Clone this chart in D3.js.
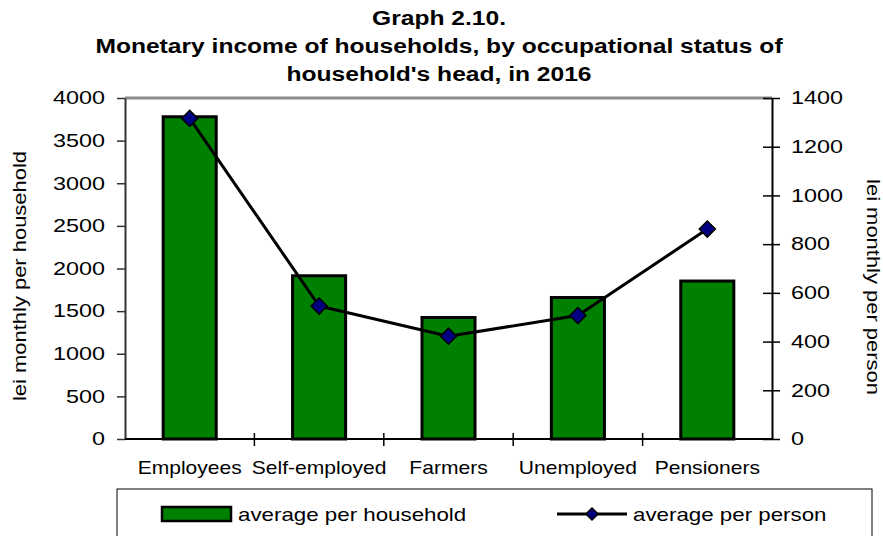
<!DOCTYPE html>
<html>
<head>
<meta charset="utf-8">
<script src="https://cdn.jsdelivr.net/npm/d3@7"></script>
<style>
  body { margin: 0; background: #fff; }
  svg text { font-family: "Liberation Sans", Arial, sans-serif; fill: #000; }
</style>
</head>
<body>
<svg id="chart" width="883" height="536"></svg>
<script>
// Data
const categories = ["Employees", "Self-employed", "Farmers", "Unemployed", "Pensioners"];
const perHousehold = [3780, 1915, 1425, 1660, 1853]; // lei monthly per household (left axis)
const perPerson = [1316, 546, 422, 507, 862];        // lei monthly per person (right axis)
const leftTicks = [0, 500, 1000, 1500, 2000, 2500, 3000, 3500, 4000];
const rightTicks = [0, 200, 400, 600, 800, 1000, 1200, 1400];
const titleLines = ["Graph 2.10.", "Monetary income of households, by occupational status of", "household's head, in 2016"];
const seriesNames = ["average per household", "average per person"];

const svg = d3.select("#chart");

// plot box (window.top is taken, so prefix these)
const plotLeft = 125, plotRight = 772, plotTop = 98, plotBottom = 439;

const x = d3.scaleBand().domain(categories).range([plotLeft, plotRight])
  .paddingInner(0.59).paddingOuter(0.295);
const yL = d3.scaleLinear().domain([0, 4000]).range([plotBottom, plotTop]);
const yR = d3.scaleLinear().domain([0, 1400]).range([plotBottom, plotTop]);

// the text in the original is stretched sideways, so widen it with a scale
function label(parent, str, px, py, k, opts = {}) {
  const rot = opts.rotate ? ` rotate(${opts.rotate})` : "";
  return parent.append("text")
    .attr("transform", `translate(${px},${py})${rot} scale(${k},1)`)
    .attr("text-anchor", opts.anchor || "middle")
    .attr("font-size", opts.size || 18)
    .attr("font-weight", opts.bold ? "bold" : null)
    .attr("dominant-baseline", opts.baseline || null)
    .text(str);
}

function stretchTicks(g, k) {
  g.selectAll(".tick text").each(function() {
    const t = d3.select(this);
    t.attr("x", (+t.attr("x")) / k).attr("transform", `scale(${k},1)`);
  });
}

// Title -------
titleLines.forEach((s, i) => {
  label(svg, s, 439, 25 + i * 28, 1.23, { bold: true, size: 20 });
});

// top border of the plot (grey)
svg.append("line")
  .attr("x1", plotLeft).attr("x2", plotRight)
  .attr("y1", plotTop).attr("y2", plotTop)
  .attr("stroke", "#8c8c8c").attr("stroke-width", 3);

// Bars -------
svg.append("g").selectAll("rect")
  .data(perHousehold)
  .join("rect")
  .attr("x", (d, i) => x(categories[i]))
  .attr("y", d => yL(d))
  .attr("width", x.bandwidth())
  .attr("height", d => yL(0) - yL(d))
  .attr("fill", "#008000")
  .attr("stroke", "#000")
  .attr("stroke-width", 3);

// Left axis -------
const gL = svg.append("g")
  .attr("transform", `translate(${plotLeft},0)`)
  .call(d3.axisLeft(yL).tickValues(leftTicks).tickFormat(d3.format("d"))
    .tickSize(8).tickPadding(12).tickSizeOuter(0));
gL.select(".domain").attr("stroke", "#333").attr("stroke-width", 2);
gL.selectAll(".tick line").attr("stroke", "#333").attr("stroke-width", 1.5);
gL.selectAll(".tick text").attr("font-size", 18).attr("font-family", null);
stretchTicks(gL, 1.3);

// Right axis -------
const gR = svg.append("g")
  .attr("transform", `translate(${plotRight},0)`)
  .call(d3.axisRight(yR).tickValues(rightTicks).tickFormat(d3.format("d"))
    .tickSize(8).tickPadding(11).tickSizeOuter(0));
gR.select(".domain").attr("stroke", "#000").attr("stroke-width", 2);
gR.selectAll(".tick line").attr("x1", -9).attr("stroke", "#000").attr("stroke-width", 1.5);
gR.selectAll(".tick text").attr("font-size", 18).attr("font-family", null);
stretchTicks(gR, 1.3);

// Bottom axis -------
svg.append("line")
  .attr("x1", plotLeft).attr("x2", plotRight)
  .attr("y1", plotBottom).attr("y2", plotBottom)
  .attr("stroke", "#000").attr("stroke-width", 2);

// category separators, crossing the axis
const step = x.step();
svg.append("g").selectAll("line")
  .data(d3.range(1, categories.length))
  .join("line")
  .attr("x1", i => plotLeft + i * step).attr("x2", i => plotLeft + i * step)
  .attr("y1", plotBottom - 6).attr("y2", plotBottom + 7)
  .attr("stroke", "#000").attr("stroke-width", 1.5);

categories.forEach(c => {
  label(svg, c, x(c) + x.bandwidth() / 2, 474, 1.17);
});

// Axis titles -------
label(svg, "lei monthly per household", 20, 276, 1.22, { rotate: -90, baseline: "central" });
label(svg, "lei monthly per person", 873, 287, 1.22, { rotate: 90, baseline: "central" });

// Line series -------
const lineGen = d3.line()
  .x((d, i) => x(categories[i]) + x.bandwidth() / 2)
  .y(d => yR(d));

svg.append("path")
  .datum(perPerson)
  .attr("d", lineGen)
  .attr("fill", "none")
  .attr("stroke", "#000")
  .attr("stroke-width", 3)
  .attr("stroke-linejoin", "round");

const diamond = d3.symbol().type(d3.symbolSquare).size(130);
svg.append("g").selectAll("path")
  .data(perPerson)
  .join("path")
  .attr("d", diamond)
  .attr("transform", (d, i) => `translate(${x(categories[i]) + x.bandwidth() / 2},${yR(d)}) rotate(45)`)
  .attr("fill", "#000080")
  .attr("stroke", "#000")
  .attr("stroke-width", 1.5);

// Legend -------
const legend = svg.append("g");
legend.append("rect")
  .attr("x", 117).attr("y", 489)
  .attr("width", 755).attr("height", 70)
  .attr("fill", "#fff")
  .attr("stroke", "#000").attr("stroke-width", 1);

legend.append("rect")
  .attr("x", 162).attr("y", 507)
  .attr("width", 69).attr("height", 14)
  .attr("fill", "#008000")
  .attr("stroke", "#000").attr("stroke-width", 2.5);
label(legend, seriesNames[0], 238, 521, 1.24, { anchor: "start" });

legend.append("line")
  .attr("x1", 557).attr("x2", 627)
  .attr("y1", 514).attr("y2", 514)
  .attr("stroke", "#000").attr("stroke-width", 3);
legend.append("path")
  .attr("d", d3.symbol().type(d3.symbolSquare).size(72))
  .attr("transform", "translate(592,514) rotate(45)")
  .attr("fill", "#000080")
  .attr("stroke", "#000")
  .attr("stroke-width", 1.5);
label(legend, seriesNames[1], 633, 521, 1.24, { anchor: "start" });
</script>
</body>
</html>
